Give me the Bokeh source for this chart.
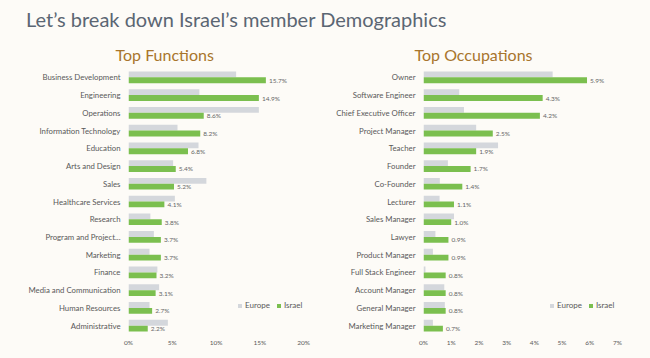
from bokeh.plotting import figure
from bokeh.models import (ColumnDataSource, FactorRange, Range1d, FixedTicker,
                          PrintfTickFormatter, Div, Legend, LegendItem)
from bokeh.layouts import column, row
from bokeh.transform import dodge
from bokeh.core.properties import value
from bokeh.embed import file_html
from bokeh.resources import INLINE

# ---------------- data ----------------
functions = ["Business Development", "Engineering", "Operations", "Information Technology",
             "Education", "Arts and Design", "Sales", "Healthcare Services", "Research",
             "Program and Project...", "Marketing", "Finance", "Media and Communication",
             "Human Resources", "Administrative"]
functions_europe = [12.3, 8.1, 14.9, 5.6, 8.0, 5.1, 8.9, 5.3, 2.5, 2.9, 2.4, 3.3, 3.5, 2.4, 4.5]
functions_israel = [15.7, 14.9, 8.6, 8.2, 6.8, 5.4, 5.2, 4.1, 3.8, 3.7, 3.7, 3.2, 3.1, 2.7, 2.2]
functions_ticks = [0, 5, 10, 15, 20]

occupations = ["Owner", "Software Engineer", "Chief Executive Officer", "Project Manager",
               "Teacher", "Founder", "Co-Founder", "Lecturer", "Sales Manager", "Lawyer",
               "Product Manager", "Full Stack Engineer", "Account Manager", "General Manager",
               "Marketing Manager"]
occupations_europe = [4.66, 1.29, 1.46, 1.9, 2.69, 0.88, 0.59, 0.58, 1.1, 0.43, 0.34, 0.07, 0.75, 0.77, 0.34]
occupations_israel = [5.9, 4.3, 4.2, 2.5, 1.9, 1.7, 1.4, 1.1, 1.0, 0.9, 0.9, 0.8, 0.8, 0.8, 0.7]
occupations_ticks = [0, 1, 2, 3, 4, 5, 6, 7]

TITLE = "Let\u2019s break down Israel\u2019s member Demographics"

# ---------------- style ----------------
BG = "#FDFBF7"
GREEN = "#7BBF4F"
GREY = "#D4D7DC"
LABEL = "#595959"
FONT = "Lato"
FIG_H = 321


def make_chart(title, cats, europe, israel, ticks, xmax, width, border_left, border_right,
               title_offset, legend_x):
    src = ColumnDataSource(dict(cat=cats, europe=europe, israel=israel,
                                lab=["%.1f%%" % v for v in israel]))
    p = figure(width=width, height=FIG_H, y_range=FactorRange(*reversed(cats)),
               x_range=Range1d(0, xmax), output_backend="svg", toolbar_location=None,
               min_border_left=border_left, min_border_right=border_right,
               min_border_top=27, min_border_bottom=24,
               background_fill_color=BG, border_fill_color=BG, outline_line_color=None,
               styles={"background-color": BG})
    p.title.text = title
    p.title.text_font = FONT
    p.title.text_font_size = "16px"
    p.title.text_font_style = "normal"
    p.title.text_color = "#A8752C"
    p.title.align = "left"
    p.title.offset = title_offset

    r_eu = p.hbar(y=dodge("cat", 0.165, range=p.y_range), right="europe", height=0.33,
                  color=GREY, line_color=None, source=src)
    r_il = p.hbar(y=dodge("cat", -0.165, range=p.y_range), right="israel", height=0.33,
                  color=GREEN, line_color=None, source=src)
    p.text(x="israel", y=dodge("cat", -0.165, range=p.y_range), text="lab", source=src,
           x_offset=3, text_baseline="middle", text_font=value(FONT),
           text_font_size="6.5px", text_color="#666666")

    legend = Legend(items=[LegendItem(label="Europe", renderers=[r_eu]),
                           LegendItem(label="Israel", renderers=[r_il])],
                    orientation="horizontal", location=(legend_x, 24),
                    glyph_width=5, glyph_height=5, label_text_font=FONT,
                    label_text_font_size="8px", label_text_color=LABEL,
                    label_standoff=3, spacing=6, padding=0, margin=0,
                    border_line_color=None, background_fill_alpha=0)
    p.add_layout(legend, "center")

    p.xgrid.grid_line_color = None
    p.ygrid.grid_line_color = None
    p.xaxis.ticker = FixedTicker(ticks=ticks)
    p.xaxis.formatter = PrintfTickFormatter(format="%d%%")
    for ax in (p.xaxis, p.yaxis):
        ax.axis_line_color = None
        ax.major_tick_line_color = None
        ax.minor_tick_line_color = None
        ax.major_tick_out = 0
        ax.major_tick_in = 0
        ax.minor_tick_out = 0
        ax.minor_tick_in = 0
        ax.major_label_text_font = FONT
        ax.major_label_text_color = LABEL
    p.xaxis.major_label_text_font_size = "6.5px"
    p.xaxis.major_label_standoff = 4
    p.yaxis.major_label_text_font_size = "7.8px"
    p.yaxis.major_label_standoff = 8
    return p


p1 = make_chart("Top Functions", functions, functions_europe, functions_israel,
                functions_ticks, 20, 320, 128, 17, -13, 109)
p2 = make_chart("Top Occupations", occupations, occupations_europe, occupations_israel,
                occupations_ticks, 7, 330, 103, 33, -9, 126)

head = Div(text=TITLE, width=650, height=37, margin=(0, 0, 0, 0),
           styles={"font-family": FONT, "font-size": "20px", "color": "#5B6673",
                   "padding-left": "26px", "padding-top": "5px", "background": BG,
                   "width": "650px", "height": "37px", "box-sizing": "border-box"})

body = row(p1, p2, spacing=0, styles={"background-color": BG})
layout = column(head, body, spacing=0, styles={"background-color": BG})

open("out.html", "w").write(file_html(layout, INLINE))
